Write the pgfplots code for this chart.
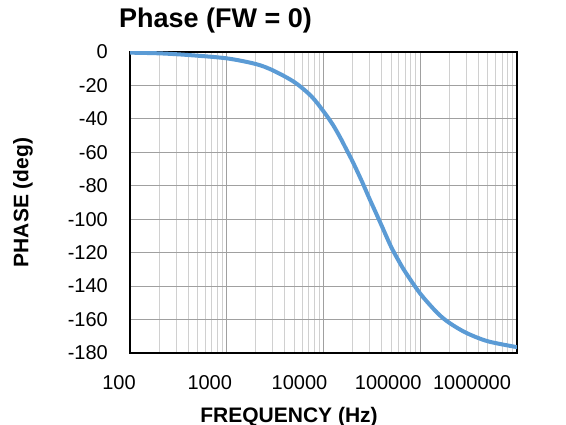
\documentclass[border=0pt]{standalone}
\usepackage{fontspec}
\setmainfont{Liberation Sans}
\usepackage{pgfplots}
\pgfplotsset{compat=1.18}

\definecolor{curveblue}{HTML}{5B9BD5}
\definecolor{majgrid}{HTML}{A0A0A0}
\definecolor{mingrid}{HTML}{D0D0D0}

% shift a tick label left by #1 without changing its anchor
\newcommand\shl[2]{\makebox[0pt]{\kern-#1\relax #2\kern#1\relax}}

\begin{document}
\begin{tikzpicture}
\path[use as bounding box] (-130bp,-72bp) rectangle (436bp,353bp);
\begin{axis}[
    at={(0,0)}, anchor=south west,
    scale only axis,
    width=387bp, height=301bp,
    xmode=log,
    xmin=100, xmax=1000000,
    ymin=-180, ymax=0,
    xtick={100,1000,10000,100000,1000000},
    xticklabels={\shl{11bp}{100},\shl{17bp}{1000},\shl{24bp}{10000},\shl{32bp}{100000},\shl{45bp}{1000000}},
    minor xtick={200,300,400,500,600,700,800,900,
                 2000,3000,4000,5000,6000,7000,8000,9000,
                 20000,30000,40000,50000,60000,70000,80000,90000,
                 200000,300000,400000,500000,600000,700000,800000,900000},
    ytick={-180,-160,-140,-120,-100,-80,-60,-40,-20,0},
    yticklabels={-180,-160,-140,-120,-100,-80,-60,-40,-20,0},
    major tick length=0pt, minor tick length=0pt,
    xmajorgrids=true, xminorgrids=true, ymajorgrids=true,
    major grid style={majgrid, line width=1.1bp},
    minor grid style={mingrid, line width=1bp},
    axis line style={black, line width=2.3bp},
    tick label style={font=\fontsize{20bp}{24bp}\selectfont, inner sep=0pt},
    xticklabel style={anchor=north, yshift=-22bp},
    yticklabel style={anchor=east, xshift=-22bp},
    title={Phase (FW = 0)},
    title style={at={(axis description cs:0.221,1)}, anchor=base, yshift=19bp,
                 font=\fontsize{27bp}{32bp}\selectfont\bfseries, inner sep=0pt},
    xlabel={FREQUENCY (Hz)},
    xlabel style={at={(axis description cs:0.411,0)}, anchor=base, yshift=-69bp,
                  font=\fontsize{21bp}{25bp}\selectfont\bfseries, inner sep=0pt},
    ylabel={PHASE (deg)},
    ylabel style={at={(axis description cs:-0.2765,0.5)}, anchor=center, rotate=0,
                  font=\fontsize{21bp}{25bp}\selectfont\bfseries, inner sep=0pt},
]
\addplot[curveblue, line width=4bp, smooth, line cap=round] coordinates {
    (100,-0.4) (200,-0.8) (400,-1.8) (1000,-3.8) (2000,-7.2) (3000,-11)
    (5000,-18) (7500,-26.5) (10000,-35.5) (12500,-43.5) (15000,-51.5)
    (17500,-59) (20000,-65.5) (25000,-77.5) (30000,-88) (35000,-96.5)
    (40000,-104) (50000,-116.5) (60000,-125) (70000,-131.5) (100000,-144.5)
    (150000,-156) (200000,-162) (300000,-168) (500000,-173) (1000000,-176.5)
};
\end{axis}
\end{tikzpicture}
\end{document}
